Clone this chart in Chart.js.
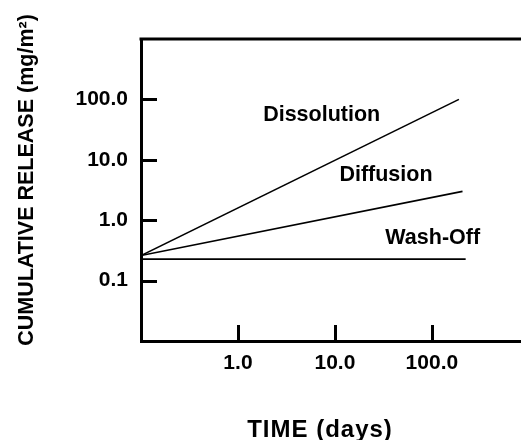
<!DOCTYPE html>
<html>
<head>
<meta charset="utf-8">
<script src="https://cdn.jsdelivr.net/npm/chart.js@4/dist/chart.umd.min.js"></script>
<style>
  html, body { margin: 0; padding: 0; background: #fff; }
  #wrap { width: 521px; height: 440px; }
</style>
</head>
<body>
<div id="wrap"><canvas id="chart" width="521" height="440"></canvas></div>
<script>
// Release curves: time (days) vs cumulative release (mg/m²), log-log
const dissolutionDays    = [0.1, 190];
const dissolutionRelease = [0.26, 100];
const diffusionDays      = [0.1, 207];
const diffusionRelease   = [0.26, 3.0];
const washOffDays        = [0.1, 223];
const washOffRelease     = [0.227, 0.227];

const seriesNames = ['Dissolution', 'Diffusion', 'Wash-Off'];
// where each curve's name sits, in data units (days, mg/m²)
const nameDays    = [7.3, 33.6, 102];
const nameRelease = [54, 5.6, 0.5];

const xTickValues = [1, 10, 100];
const yTickValues = [0.1, 1, 10, 100];

const xTitle = 'TIME (days)';
const yTitle = 'CUMULATIVE RELEASE (mg/m²)';

const FONT = "'Liberation Sans', Arial, Helvetica, sans-serif";

function toPoints(xs, ys) { return xs.map((x, i) => ({ x: x, y: ys[i] })); }

const lineStyle = { borderColor: '#000', borderWidth: 1.6, pointRadius: 0, fill: false, tension: 0 };

const decorations = {
  id: 'decorations',
  afterDatasetsDraw(chart) {
    const { ctx, chartArea: a, scales: { x, y } } = chart;
    ctx.save();
    ctx.strokeStyle = '#000';
    ctx.lineWidth = 3;
    ctx.lineCap = 'butt';
    // top rule
    ctx.beginPath();
    ctx.moveTo(a.left - 1.5, a.top);
    ctx.lineTo(a.right, a.top);
    ctx.stroke();
    // inward tick marks
    ctx.beginPath();
    yTickValues.forEach(v => {
      const py = Math.round(y.getPixelForValue(v)) + 0.5;
      ctx.moveTo(a.left, py);
      ctx.lineTo(a.left + 16, py);
    });
    xTickValues.forEach(v => {
      const px = Math.round(x.getPixelForValue(v)) + 0.5;
      ctx.moveTo(px, a.bottom);
      ctx.lineTo(px, a.bottom - 16);
    });
    ctx.stroke();

    // curve names
    ctx.fillStyle = '#000';
    ctx.font = 'bold 21.5px ' + FONT;
    ctx.textAlign = 'center';
    ctx.textBaseline = 'middle';
    seriesNames.forEach((name, i) => {
      ctx.fillText(name, x.getPixelForValue(nameDays[i]), y.getPixelForValue(nameRelease[i]));
    });

    // axis titles
    ctx.font = 'bold 24px ' + FONT;
    ctx.letterSpacing = '1px';
    ctx.fillText(xTitle, 320, 430);
    ctx.letterSpacing = '0px';
    ctx.save();
    ctx.translate(27, 180);
    ctx.rotate(-Math.PI / 2);
    ctx.font = 'bold 21.5px ' + FONT;
    ctx.fillText(yTitle, 0, 0);
    ctx.restore();
    ctx.restore();
  }
};

new Chart(document.getElementById('chart'), {
  type: 'line',
  data: {
    datasets: [
      Object.assign({ label: seriesNames[0], data: toPoints(dissolutionDays, dissolutionRelease) }, lineStyle),
      Object.assign({ label: seriesNames[1], data: toPoints(diffusionDays, diffusionRelease) }, lineStyle),
      Object.assign({ label: seriesNames[2], data: toPoints(washOffDays, washOffRelease) }, lineStyle)
    ]
  },
  options: {
    responsive: false,
    animation: false,
    devicePixelRatio: 1,
    layout: { padding: { top: 39, right: 0, left: 0, bottom: 0 } },
    plugins: { legend: { display: false }, tooltip: { enabled: false }, title: { display: false } },
    scales: {
      x: {
        type: 'logarithmic',
        min: 0.1,
        max: 830,
        grid: { display: false, drawTicks: false },
        border: { display: true, width: 3, color: '#000' },
        afterBuildTicks: s => { s.ticks = xTickValues.map(v => ({ value: v })); },
        ticks: {
          padding: 10,
          color: '#000',
          font: { family: FONT, size: 21, weight: 'bold' },
          maxRotation: 0,
          autoSkip: false,
          callback: v => Number(v).toFixed(1)
        },
        afterFit: s => { s.height = 99; }
      },
      y: {
        type: 'logarithmic',
        min: 0.01,
        max: 1000,
        grid: { display: false, drawTicks: false },
        border: { display: true, width: 3, color: '#000' },
        afterBuildTicks: s => { s.ticks = yTickValues.map(v => ({ value: v })); },
        ticks: {
          padding: 13,
          color: '#000',
          font: { family: FONT, size: 21, weight: 'bold' },
          autoSkip: false,
          callback: v => Number(v).toFixed(1)
        },
        afterFit: s => { s.width = 141; }
      }
    }
  },
  plugins: [decorations]
});
</script>
</body>
</html>
